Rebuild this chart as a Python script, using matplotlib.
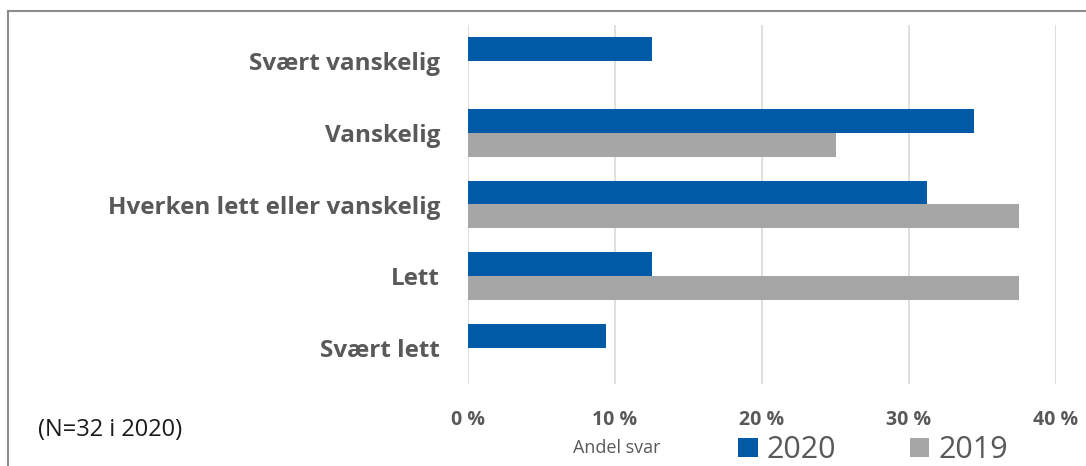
import matplotlib.pyplot as plt
import matplotlib.patches as mpatches
import numpy as np

categories = ['Svært vanskelig', 'Vanskelig', 'Hverken lett eller vanskelig', 'Lett', 'Svært lett']
values_2020 = [12.5, 34.4, 31.25, 12.5, 9.4]
values_2019 = [0, 25.0, 37.5, 37.5, 0]
ticks = [0, 10, 20, 30, 40]
tick_labels = ['0 %', '10 %', '20 %', '30 %', '40 %']

blue = '#005AA6'
grey = '#A6A6A6'
text_col = '#595959'

plt.rcParams['font.family'] = ['Open Sans', 'DejaVu Sans']

fig = plt.figure(figsize=(10.86, 4.66), dpi=100)
# frame around the chart (cut off at right/bottom as in the original)
fig.patches.append(mpatches.Rectangle((8 / 1086, -0.05), 1.2, 1 - 11 / 466 + 0.05,
                                      transform=fig.transFigure, fill=False,
                                      edgecolor='#8c8c8c', linewidth=1.5))

ax = fig.add_axes([468 / 1086, 1 - 384 / 466, (1056 - 468) / 1086, (384 - 25) / 466])

y = np.arange(len(categories))
h = 1 / 3
ax.barh(y - h / 2, values_2020, height=h, color=blue, label='2020', zorder=3)
ax.barh(y + h / 2, values_2019, height=h, color=grey, label='2019', zorder=3)

ax.set_ylim(len(categories) - 0.5, -0.5)
ax.set_xlim(0, 40)
ax.set_xticks(ticks)
ax.set_xticklabels(tick_labels, fontsize=14, fontweight='bold', color=text_col)
ax.set_yticks(y)
ax.set_yticklabels(categories, fontsize=17.5, fontweight='bold', color=text_col)
ax.tick_params(length=0, pad=19)
ax.tick_params(axis='y', pad=20)
ax.grid(axis='x', color='#d9d9d9', linewidth=1.2, zorder=0)
for s in ax.spines.values():
    s.set_visible(False)

fig.text(617 / 1086, 1 - 448 / 466, 'Andel svar', fontsize=13, color=text_col,
         ha='center', va='center')
fig.text(38 / 1086, 1 - 430 / 466, '(N=32 i 2020)', fontsize=17, color='#1a1a1a',
         ha='left', va='center')

ax.legend(loc='center', bbox_to_anchor=(873 / 1086, 1 - 450 / 466),
          bbox_transform=fig.transFigure, ncol=2, frameon=False,
          fontsize=22, labelcolor=text_col, handlelength=0.65, handleheight=0.6,
          handletextpad=0.3, columnspacing=2.4)

fig.savefig('out.png', dpi=100)
